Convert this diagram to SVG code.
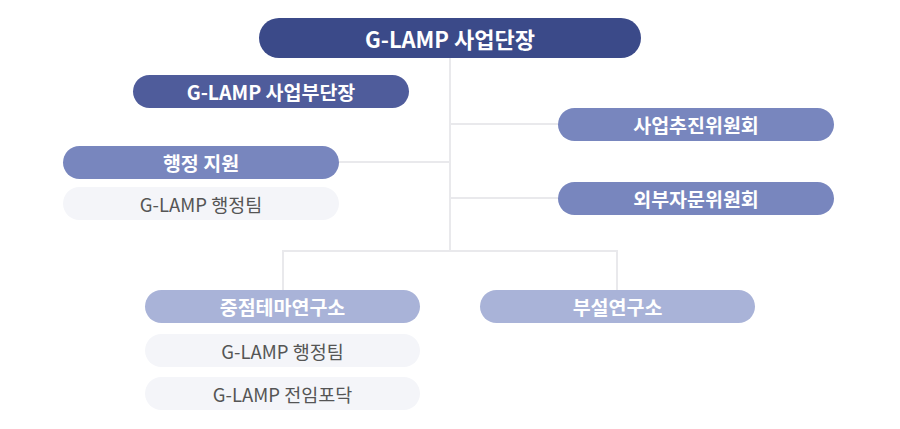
<svg xmlns="http://www.w3.org/2000/svg" width="900" height="429" viewBox="0 0 900 429">
<style>
.t{font-family:"Noto Sans CJK KR","Noto Sans",sans-serif;text-anchor:middle;dominant-baseline:central}
.w{fill:#ffffff;font-weight:700;font-size:19.5px}
.g{fill:#555555;font-weight:400;font-size:18.5px}
.c{fill:none;stroke:#e9e9ec;stroke-width:2}
</style>
<rect width="900" height="429" fill="#ffffff"/>
<g id="connectors">
<path class="c" d="M450 58V251M450 124H558M450 198H558M339 162H450M283 290V251H617V290"/>
</g>
<g id="n-director"><rect x="259" y="18" width="382" height="40" rx="20" fill="#3b4a89"/><text class="t w" x="450" y="38" style="font-size:22px">G-LAMP 사업단장</text></g>
<g id="n-deputy"><rect x="133" y="75" width="276" height="33" rx="16.5" fill="#4f5c9b"/><text class="t w" x="271" y="91.5">G-LAMP 사업부단장</text></g>
<g id="n-promo"><rect x="558" y="108" width="276" height="33" rx="16.5" fill="#7886be"/><text class="t w" x="696" y="124.5">사업추진위원회</text></g>
<g id="n-advisory"><rect x="558" y="182" width="276" height="33" rx="16.5" fill="#7886be"/><text class="t w" x="696" y="198.5">외부자문위원회</text></g>
<g id="n-admin"><rect x="63" y="146" width="276" height="33" rx="16.5" fill="#7886be"/><text class="t w" x="201" y="162.5">행정 지원</text></g>
<g id="n-admin-team"><rect x="63" y="187" width="276" height="33" rx="16.5" fill="#f4f5f9"/><text class="t g" x="201" y="203.5">G-LAMP 행정팀</text></g>
<g id="n-theme"><rect x="145" y="290" width="275" height="33" rx="16.5" fill="#a9b3d8"/><text class="t w" x="282.5" y="306.5">중점테마연구소</text></g>
<g id="n-theme-team"><rect x="145" y="334" width="275" height="33" rx="16.5" fill="#f4f5f9"/><text class="t g" x="282.5" y="350.5">G-LAMP 행정팀</text></g>
<g id="n-theme-postdoc"><rect x="145" y="377" width="275" height="33" rx="16.5" fill="#f4f5f9"/><text class="t g" x="282.5" y="393.5">G-LAMP 전임포닥</text></g>
<g id="n-affiliated"><rect x="480" y="290" width="275" height="33" rx="16.5" fill="#a9b3d8"/><text class="t w" x="617.5" y="306.5">부설연구소</text></g>
</svg>
